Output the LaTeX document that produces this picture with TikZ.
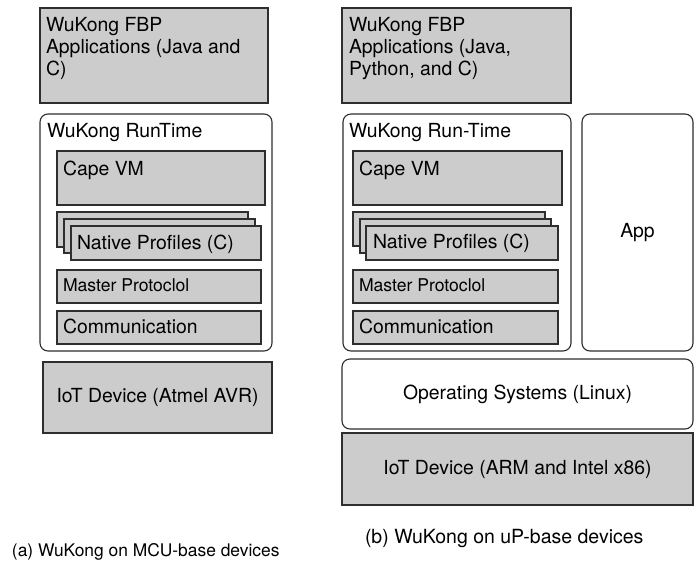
\documentclass[tikz,border=0pt]{standalone}
\usepackage{fontspec}
\setmainfont{TeX Gyre Heros}
\definecolor{boxgray}{HTML}{CCCCCC}
\definecolor{edgegray}{HTML}{2E2E2E}
\begin{document}
\begin{tikzpicture}[x=1pt,y=-1pt,
  layer/.style={draw=edgegray, line width=1.1pt, fill=boxgray, inner sep=0pt, outer sep=0pt,
                anchor=north west, font=\fontsize{19.4}{22}\selectfont},
  panel/.style={layer, fill=white, rounded corners=8pt},
  lbl/.style={inner sep=0pt, outer sep=0pt, anchor=base west, font=\fontsize{19.4}{22}\selectfont},
  smalllbl/.style={lbl, font=\fontsize{17.6}{20}\selectfont}
]
\useasboundingbox[fill=white] (0,0) rectangle (698,565);

% ---------- (a) MCU-based stack ----------
\node[layer, minimum width=228pt, minimum height=95pt] (fbpA) at (40,8) {};
\node[lbl] (fbpAa) at (46,31) {WuKong FBP};
\node[lbl] (fbpAb) at (46,53) {Applications (Java and};
\node[lbl] (fbpAc) at (46,75) {C)};

\node[panel, minimum width=232pt, minimum height=237pt] (rtA) at (40,114) {};
\node[lbl] (rtAt) at (47,137) {WuKong RunTime};

\node[layer, minimum width=208pt, minimum height=54pt] (capeA) at (57,151) {};
\node[lbl] (capeAt) at (63,175) {Cape VM};

\node[layer, minimum width=191pt, minimum height=35pt] (natA3) at (57,212) {};
\node[layer, minimum width=191pt, minimum height=34pt] (natA2) at (64,219) {};
\node[layer, minimum width=190pt, minimum height=34pt] (natA1) at (71,226) {};
\node[lbl] (natAt) at (77,249) {Native Profiles (C)};

\node[layer, minimum width=204pt, minimum height=33pt] (mpA) at (57,270) {};
\node[smalllbl] (mpAt) at (63,291) {Master Protoclol};

\node[layer, minimum width=204pt, minimum height=33pt] (comA) at (57,311) {};
\node[lbl] (comAt) at (63,333) {Communication};

\node[layer, minimum width=229pt, minimum height=71pt] (iotA) at (43,362) {IoT Device (Atmel AVR)};

\node[lbl, font=\fontsize{17.4}{20}\selectfont] (capA) at (12,556) {(a) WuKong on MCU-base devices};

% ---------- (b) uP-based stack ----------
\node[layer, minimum width=229pt, minimum height=95pt] (fbpB) at (342,8) {};
\node[lbl] (fbpBa) at (349,31) {WuKong FBP};
\node[lbl] (fbpBb) at (349,53) {Applications (Java,};
\node[lbl] (fbpBc) at (349,75) {Python, and C)};

\node[panel, minimum width=228pt, minimum height=237pt] (rtB) at (343,114) {};
\node[lbl] (rtBt) at (349,137) {WuKong Run-Time};

\node[panel, minimum width=111pt, minimum height=237pt] (appB) at (582,114) {App};

\node[layer, minimum width=209pt, minimum height=54pt] (capeB) at (353,151) {};
\node[lbl] (capeBt) at (359,175) {Cape VM};

\node[layer, minimum width=192pt, minimum height=34pt] (natB3) at (353,212) {};
\node[layer, minimum width=191pt, minimum height=34pt] (natB2) at (360,219) {};
\node[layer, minimum width=192pt, minimum height=34pt] (natB1) at (366,226) {};
\node[lbl] (natBt) at (373,248) {Native Profiles (C)};

\node[layer, minimum width=205pt, minimum height=33pt] (mpB) at (353,270) {};
\node[smalllbl] (mpBt) at (359,291) {Master Protoclol};

\node[layer, minimum width=205pt, minimum height=33pt] (comB) at (353,311) {};
\node[lbl] (comBt) at (359,333) {Communication};

\node[panel, minimum width=351pt, minimum height=70pt] (osB) at (342,359) {Operating Systems (Linux)};

\node[layer, minimum width=351pt, minimum height=72pt] (iotB) at (342,433) {IoT Device (ARM and Intel x86)};

\node[lbl, font=\fontsize{19.5}{22}\selectfont] (capB) at (365,543) {(b) WuKong on uP-base devices};
\end{tikzpicture}
\end{document}
